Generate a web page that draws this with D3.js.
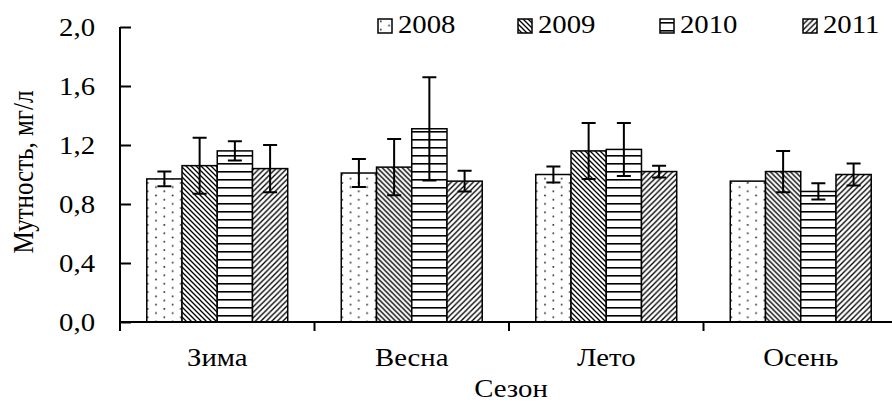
<!DOCTYPE html>
<html>
<head>
<meta charset="utf-8">
<script src="https://cdn.jsdelivr.net/npm/d3@7"></script>
<style>
  html, body { margin: 0; padding: 0; background: #fff; }
  svg { display: block; }
  text { font-family: "Liberation Serif", "Times New Roman", serif; fill: #000; }
</style>
</head>
<body>
<svg id="chart" width="892" height="403"></svg>
<script>
// Seasonal turbidity, mean and deviation per year
const seasons = ["Зима", "Весна", "Лето", "Осень"];
const years = ["2008", "2009", "2010", "2011"];
const values2008 = [0.97, 1.01, 1.00, 0.955];
const values2009 = [1.06, 1.05, 1.16, 1.02];
const values2010 = [1.16, 1.31, 1.17, 0.885];
const values2011 = [1.04, 0.955, 1.02, 1.00];
const errors2008 = [0.05, 0.095, 0.055, 0.0];
const errors2009 = [0.19, 0.19, 0.19, 0.14];
const errors2010 = [0.065, 0.35, 0.18, 0.055];
const errors2011 = [0.16, 0.07, 0.04, 0.075];
const yTicks = [0, 0.4, 0.8, 1.2, 1.6, 2.0];
const yLabel = "Мутность, мг/л";
const xLabel = "Сезон";

const seriesValues = [values2008, values2009, values2010, values2011];
const seriesErrors = [errors2008, errors2009, errors2010, errors2011];
const patternIds = ["p2008", "p2009", "p2010", "p2011"];

const svg = d3.select("#chart");
const plotLeft = 120, plotRight = 898, plotTop = 27, plotBottom = 322;
const stretch = 1.15; // horizontal glyph stretch

const x0 = d3.scaleBand().domain(seasons).range([plotLeft, plotRight]).paddingInner(0).paddingOuter(0);
const x1 = d3.scaleBand().domain(years).range([0, x0.bandwidth()]).paddingInner(0).paddingOuter(0.76);
const y = d3.scaleLinear().domain([0, 2]).range([plotBottom, plotTop]);

// Fill patterns
const defs = svg.append("defs");
const dots = defs.append("pattern").attr("id", "p2008").attr("patternUnits", "userSpaceOnUse")
  .attr("width", 16.6).attr("height", 8.4);
dots.append("rect").attr("width", 16.6).attr("height", 8.4).attr("fill", "#fff");
dots.append("rect").attr("x", 2).attr("y", 1.5).attr("width", 1.6).attr("height", 1.6).attr("fill", "#222");
dots.append("rect").attr("x", 10.3).attr("y", 5.7).attr("width", 1.6).attr("height", 1.6).attr("fill", "#222");

const back = defs.append("pattern").attr("id", "p2009").attr("patternUnits", "userSpaceOnUse")
  .attr("width", 5).attr("height", 5);
back.append("rect").attr("width", 5).attr("height", 5).attr("fill", "#fff");
back.append("path").attr("d", "M-1,-1 L6,6 M-1,4 L1,6 M4,-1 L6,1").attr("stroke", "#000").attr("stroke-width", 1.3);

const horiz = defs.append("pattern").attr("id", "p2010").attr("patternUnits", "userSpaceOnUse")
  .attr("width", 8).attr("height", 8);
horiz.append("rect").attr("width", 8).attr("height", 8).attr("fill", "#fff");
horiz.append("rect").attr("x", 0).attr("y", 3).attr("width", 8).attr("height", 1.6).attr("fill", "#000");

const fwd = defs.append("pattern").attr("id", "p2011").attr("patternUnits", "userSpaceOnUse")
  .attr("width", 5.5).attr("height", 5.5);
fwd.append("rect").attr("width", 5.5).attr("height", 5.5).attr("fill", "#fff");
fwd.append("path").attr("d", "M-1,6.5 L6.5,-1 M-1,1 L1,-1 M4.5,6.5 L6.5,4.5").attr("stroke", "#000").attr("stroke-width", 1.3);

// Bars
const groups = svg.append("g").selectAll("g").data(seasons).join("g")
  .attr("transform", d => `translate(${x0(d)},0)`);

years.forEach((yr, si) => {
  groups.append("rect")
    .attr("x", x1(yr))
    .attr("y", (d, i) => y(seriesValues[si][i]))
    .attr("width", x1.bandwidth())
    .attr("height", (d, i) => y(0) - y(seriesValues[si][i]))
    .attr("fill", `url(#${patternIds[si]})`)
    .attr("stroke", "#000")
    .attr("stroke-width", 1.5);
});

// Error bars
years.forEach((yr, si) => {
  const cx = x1(yr) + x1.bandwidth() / 2;
  const cap = 7;
  groups.each(function(d, i) {
    const v = seriesValues[si][i], e = seriesErrors[si][i];
    if (!(e > 0)) return;
    const path = `M${cx},${y(v + e)}V${y(v - e)}M${cx - cap},${y(v + e)}H${cx + cap}M${cx - cap},${y(v - e)}H${cx + cap}`;
    d3.select(this).append("path").attr("d", path)
      .attr("stroke", "#000").attr("stroke-width", 2).attr("fill", "none");
  });
});

// Y axis
const yAxis = d3.axisRight(y).tickValues(yTicks).tickSize(11).tickFormat("");
const gy = svg.append("g").attr("transform", `translate(${plotLeft},0)`).call(yAxis);
gy.select(".domain").attr("d", `M0,${plotTop}V${plotBottom}`);
gy.selectAll("line, path").attr("stroke", "#000").attr("stroke-width", 2);

const fmt = d => d3.format(".1f")(d).replace(".", ",");
svg.append("g").selectAll("text").data(yTicks).join("text")
  .attr("transform", d => `translate(95,${y(d)}) scale(${stretch},1)`)
  .attr("text-anchor", "end")
  .attr("dy", "0.34em")
  .style("font-size", "25px")
  .text(fmt);

// X axis
const xAxis = d3.axisBottom(x0).tickSize(0).tickFormat("");
const gx = svg.append("g").attr("transform", `translate(0,${plotBottom})`).call(xAxis);
gx.select(".domain").attr("d", `M${plotLeft},0H${plotRight}`);
gx.selectAll(".tick").remove();
gx.selectAll(".sep").data(seasons).join("line")
  .attr("class", "sep")
  .attr("x1", d => x0(d)).attr("x2", d => x0(d))
  .attr("y1", 0).attr("y2", 9);
gx.selectAll("line, path").attr("stroke", "#000").attr("stroke-width", 2);

svg.append("g").selectAll("text").data(seasons).join("text")
  .attr("transform", d => `translate(${x0(d) + x0.bandwidth() / 2},366) scale(${stretch},1)`)
  .attr("text-anchor", "middle")
  .style("font-size", "25px")
  .text(d => d);

svg.append("text")
  .attr("transform", `translate(511,397) scale(${stretch},1)`)
  .attr("text-anchor", "middle")
  .style("font-size", "25px")
  .text(xLabel);

svg.append("text")
  .attr("transform", `translate(33,172) scale(${stretch},1) rotate(-90)`)
  .attr("text-anchor", "middle")
  .style("font-size", "25px")
  .text(yLabel);

// Legend
const legendX = [378, 518, 660, 803];
const legend = svg.append("g").selectAll("g").data(years).join("g")
  .attr("transform", (d, i) => `translate(${legendX[i]},19)`);
legend.append("rect")
  .attr("width", 14).attr("height", 14)
  .attr("fill", (d, i) => `url(#${patternIds[i]})`)
  .attr("stroke", "#000").attr("stroke-width", 1.5);
legend.append("text")
  .attr("transform", `translate(20,14) scale(${stretch},1)`)
  .style("font-size", "25px")
  .text(d => d);
</script>
</body>
</html>
